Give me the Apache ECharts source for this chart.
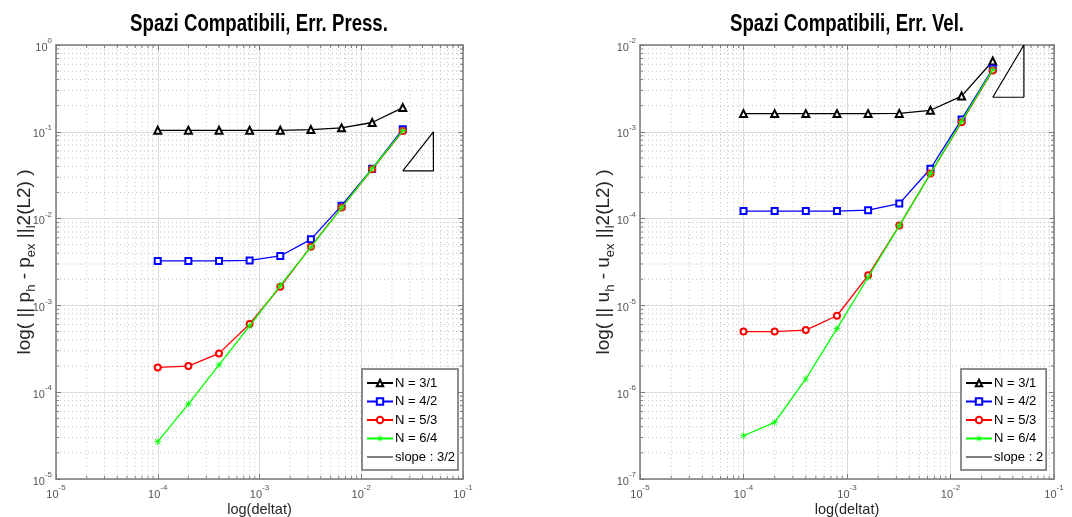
<!DOCTYPE html>
<html><head><meta charset="utf-8">
<script src="https://cdn.jsdelivr.net/npm/echarts@6/dist/echarts.min.js"></script>
<style>html,body{margin:0;padding:0;background:#fff}#c{width:1072px;height:517px}</style>
</head><body><div id="c"></div>
<script>
// ---------- data ----------
const deltat = [1e-4, 2e-4, 4e-4, 8e-4, 1.6e-3, 3.2e-3, 6.4e-3, 1.28e-2, 2.56e-2];
const seriesNames = ['N = 3/1', 'N = 4/2', 'N = 5/3', 'N = 6/4'];

// Pressure error (left)
const pressN31 = [0.104, 0.104, 0.104, 0.104, 0.104, 0.106, 0.111, 0.128, 0.19];
const pressN42 = [0.00325, 0.00325, 0.00325, 0.0033, 0.00371, 0.00577, 0.0141, 0.0376, 0.107];
const pressN53 = [1.93e-4, 2.0e-4, 2.8e-4, 6.1e-4, 1.64e-3, 4.75e-3, 0.0134, 0.037, 0.102];
const pressN64 = [2.69e-5, 7.3e-5, 2.06e-4, 5.8e-4, 1.69e-3, 4.7e-3, 0.0133, 0.0375, 0.103];
const pressSlopeX = [0.0256, 0.0512, 0.0512, 0.0256];
const pressSlopeY = [0.0354, 0.1, 0.0354, 0.0354];
const pressSlopeName = 'slope : 3/2';

// Velocity error (right)
const velN31 = [1.62e-3, 1.62e-3, 1.62e-3, 1.62e-3, 1.62e-3, 1.63e-3, 1.77e-3, 2.58e-3, 6.54e-3];
const velN42 = [1.22e-4, 1.22e-4, 1.22e-4, 1.22e-4, 1.25e-4, 1.49e-4, 3.75e-4, 1.39e-3, 5.35e-3];
const velN53 = [5.0e-6, 5.0e-6, 5.2e-6, 7.6e-6, 2.22e-5, 8.3e-5, 3.3e-4, 1.29e-3, 5.1e-3];
const velN64 = [3.15e-7, 4.49e-7, 1.42e-6, 5.4e-6, 2.11e-5, 8.3e-5, 3.3e-4, 1.32e-3, 5.2e-3];
const velSlopeX = [0.0256, 0.0512, 0.0512, 0.0256];
const velSlopeY = [0.0025, 0.01, 0.0025, 0.0025];
const velSlopeName = 'slope : 2';

// axes
const xRange = [1e-5, 1e-1];
const pressYRange = [1e-5, 1];
const velYRange = [1e-7, 1e-2];
const titles = ['Spazi Compatibili, Err. Press.', 'Spazi Compatibili, Err. Vel.'];
const xName = 'log(deltat)';
const pressYName = '{m|log( || p}{s|h}{m| - p}{s|ex}{m| ||}{s|l}{m|2(L2) )}';
const velYName = '{m|log( || u}{s|h}{m| - u}{s|ex}{m| ||}{s|l}{m|2(L2) )}';

// ---------- styling ----------
const SANS = '"Liberation Sans", Arial, sans-serif';
const AX = '#7a7a7a';
const TXT = '#262626';
const colors = ['#000000', '#0000ff', '#ff0000', '#00ff00'];
const ASTER = 'path://M9,0H11V20H9Z M0,9H20V11H0Z M2.2,3.6L3.6,2.2L17.8,16.4L16.4,17.8Z M16.4,2.2L17.8,3.6L3.6,17.8L2.2,16.4Z';
const LINEICON = 'path://M0,0L0.01,0Z M0,3H30V5H0Z M0,8L0.01,8Z';
const symbols = ['emptyTriangle', 'emptyRect', 'emptyCircle', ASTER];
const symSizes = [7, 6, 6, 7];

const grids = [
  { left: 56, top: 45, width: 407, height: 434, outerBoundsMode: 'none', containLabel: false },
  { left: 640, top: 45, width: 414, height: 434, outerBoundsMode: 'none', containLabel: false }
];

function expFmt(v) {
  const e = Math.round(Math.log10(v));
  return '{b|10}{s|' + e + '}';
}
const tickRich = {
  b: { fontSize: 11, fontFamily: SANS, color: '#555', lineHeight: 16, verticalAlign: 'bottom' },
  s: { fontSize: 8, fontFamily: SANS, color: '#555', verticalAlign: 'top' }
};

function mkX(gi, pos) {
  const main = pos === 'bottom';
  return {
    type: 'log', logBase: 10, gridIndex: gi, position: pos, min: xRange[0], max: xRange[1], interval: 1,
    axisLine: { show: true, onZero: false, lineStyle: { color: AX, width: 1.5 } },
    axisTick: { show: true, inside: true, length: 5, lineStyle: { color: AX } },
    axisLabel: { show: main, formatter: expFmt, rich: tickRich, margin: 5 },
    splitLine: { show: main, lineStyle: { color: '#dcdcdc', width: 1 } },
    name: main ? xName : '', nameLocation: 'middle', nameGap: 23, nameMoveOverlap: false,
    nameTextStyle: { fontSize: 14.5, fontFamily: SANS, color: TXT, verticalAlign: 'top' }
  };
}
function mkY(gi, pos, range, name, gap) {
  const main = pos === 'left';
  return {
    type: 'log', logBase: 10, gridIndex: gi, position: pos, min: range[0], max: range[1], interval: 1,
    axisLine: { show: true, onZero: false, lineStyle: { color: AX, width: 1.5 } },
    axisTick: { show: true, inside: true, length: 5, lineStyle: { color: AX } },
    axisLabel: { show: main, formatter: expFmt, rich: tickRich, margin: 4 },
    splitLine: { show: main, lineStyle: { color: '#dcdcdc', width: 1 } },
    name: main ? name : '', nameLocation: 'middle', nameGap: gap, nameMoveOverlap: false,
    nameTextStyle: {
      color: TXT,
      rich: {
        m: { fontSize: 19, fontFamily: SANS, color: TXT, lineHeight: 23, verticalAlign: 'top' },
        s: { fontSize: 13, fontFamily: SANS, color: TXT, verticalAlign: 'bottom' }
      }
    }
  };
}

function minorVals(lo, hi) {
  const out = [];
  for (let e = Math.round(Math.log10(lo)); e < Math.round(Math.log10(hi)); e++) {
    for (let m = 2; m <= 9; m++) out.push(m * Math.pow(10, e));
  }
  return out;
}

function minorSeries(gi, xr, yr) {
  const xv = minorVals(xr[0], xr[1]);
  const yv = minorVals(yr[0], yr[1]);
  const data = xv.map(v => [v, yr[0], 0]).concat(yv.map(v => [xr[0], v, 1]));
  return {
    type: 'custom', name: 'minor' + gi, xAxisIndex: gi * 2, yAxisIndex: gi * 2, silent: true, z: 1,
    clip: false, data: data, encode: { x: 0, y: 1 },
    renderItem: function (params, api) {
      const isY = api.value(2) === 1;
      const dash = { stroke: '#c4c4c4', lineWidth: 1, lineDash: [1, 3] };
      const tick = { stroke: AX, lineWidth: 1 };
      if (!isY) {
        const x = api.value(0);
        const p0 = api.coord([x, yr[0]]);
        const p1 = api.coord([x, yr[1]]);
        return { type: 'group', children: [
          { type: 'line', shape: { x1: p0[0], y1: p0[1], x2: p1[0], y2: p1[1] }, style: dash },
          { type: 'line', shape: { x1: p0[0], y1: p0[1], x2: p0[0], y2: p0[1] - 3 }, style: tick },
          { type: 'line', shape: { x1: p1[0], y1: p1[1], x2: p1[0], y2: p1[1] + 3 }, style: tick }
        ] };
      } else {
        const y = api.value(1);
        const p0 = api.coord([xr[0], y]);
        const p1 = api.coord([xr[1], y]);
        return { type: 'group', children: [
          { type: 'line', shape: { x1: p0[0], y1: p0[1], x2: p1[0], y2: p1[1] }, style: dash },
          { type: 'line', shape: { x1: p0[0], y1: p0[1], x2: p0[0] + 3, y2: p0[1] }, style: tick },
          { type: 'line', shape: { x1: p1[0], y1: p1[1], x2: p1[0] - 3, y2: p1[1] }, style: tick }
        ] };
      }
    }
  };
}

function dataSeries(gi, arrs, slopeX, slopeY, slopeName) {
  const out = arrs.map((arr, i) => ({
    type: 'line', name: seriesNames[i], xAxisIndex: gi * 2, yAxisIndex: gi * 2, z: 3 + i,
    data: deltat.map((x, k) => [x, arr[k]]),
    symbol: symbols[i], symbolSize: symSizes[i],
    lineStyle: { color: colors[i], width: 1.3 },
    itemStyle: { color: colors[i], borderColor: colors[i], borderWidth: i === 3 ? 0 : 1.1 },
    emphasis: { disabled: true }, animation: false
  }));
  out.push({
    type: 'line', name: slopeName, xAxisIndex: gi * 2, yAxisIndex: gi * 2, z: 8,
    data: slopeX.map((x, k) => [x, slopeY[k]]), symbol: 'none',
    lineStyle: { color: '#000', width: 1.2 }, itemStyle: { color: '#555' },
    emphasis: { disabled: true }, animation: false
  });
  return out;
}

function mkLegend(left, slopeName) {
  const data = seriesNames.map(n => ({ name: n }));
  data.push({ name: slopeName, icon: LINEICON, itemStyle: { color: '#555' } });
  return {
    orient: 'vertical', left: left, top: 369, data: data,
    backgroundColor: '#fff', borderColor: '#6a6a6a', borderWidth: 1.5, borderRadius: 0,
    padding: [5, 3, 4, 4], itemGap: 0.5, itemWidth: 26, itemHeight: 8,
    textStyle: { fontSize: 13, fontFamily: SANS, color: '#000', lineHeight: 18, padding: [0, 0, 0, -3] },
    selectedMode: false
  };
}

const option = {
  animation: false,
  backgroundColor: '#fff',
  grid: grids,
  xAxis: [mkX(0, 'bottom'), mkX(0, 'top'), mkX(1, 'bottom'), mkX(1, 'top')],
  yAxis: [mkY(0, 'left', pressYRange, pressYName, 18), mkY(0, 'right', pressYRange, '', 0),
          mkY(1, 'left', velYRange, velYName, 23), mkY(1, 'right', velYRange, '', 0)],
  legend: [
    mkLegend(362, pressSlopeName),
    mkLegend(961, velSlopeName)
  ],
  graphic: [
    { type: 'text', x: 259, y: 25, scaleX: 0.81, z: 10,
      style: { text: titles[0], font: 'bold 23px "Liberation Sans"', fill: '#000', align: 'center', textAlign: 'center', verticalAlign: 'middle', textVerticalAlign: 'middle' } },
    { type: 'text', x: 847, y: 25, scaleX: 0.81, z: 10,
      style: { text: titles[1], font: 'bold 23px "Liberation Sans"', fill: '#000', align: 'center', textAlign: 'center', verticalAlign: 'middle', textVerticalAlign: 'middle' } }
  ],
  series: [
    minorSeries(0, xRange, pressYRange),
    minorSeries(1, xRange, velYRange)
  ].concat(dataSeries(0, [pressN31, pressN42, pressN53, pressN64], pressSlopeX, pressSlopeY, pressSlopeName))
   .concat(dataSeries(1, [velN31, velN42, velN53, velN64], velSlopeX, velSlopeY, velSlopeName))
};

const chart = echarts.init(document.getElementById('c'), null, { renderer: 'canvas' });
chart.setOption(option);
</script>
</body></html>
